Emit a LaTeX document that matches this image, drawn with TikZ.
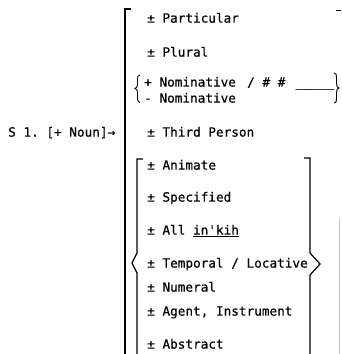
\documentclass[tikz,border=0pt]{standalone}
\usepackage{fontspec}
\setmonofont{DejaVu Sans Mono}[FakeBold=0.5]
\begin{document}
\begin{tikzpicture}[x=1pt,y=-1pt,
  row/.style={anchor=base west, inner sep=0pt, font=\ttfamily\fontsize{12.7}{15}\selectfont},
  brk/.style={line width=1.4pt},
  ibrk/.style={line width=1.2pt},
  curl/.style={line width=0.9pt}]
\useasboundingbox (0,0) rectangle (342,354);
% left-hand side
\node[row] (s1) at (8,136.6) {S 1. [+ Noun]→};
% outer rows
\node[row] (particular) at (147,22.6) {± Particular};
\node[row] (plural) at (147,56.6) {± Plural};
\node[row] (nomplus) at (144,86.6) {+ Nominative};
\node[row] (slash) at (247,86.6) {/ \# \#};
\node[row] (blank) at (295.5,86.6) {\_\_\_\_\_};
\node[row] (nomminus) at (144,102.6) {- Nominative};
\node[row] (third) at (147,136.6) {± Third Person};
% inner rows
\node[row] (animate) at (147,169.6) {± Animate};
\node[row] (specified) at (147,201.6) {± Specified};
\node[row] (all) at (147,234.6) {± All \underline{in'kih}};
\node[row] (temporal) at (147,267.6) {± Temporal / Locative};
\node[row] (numeral) at (147,291.6) {± Numeral};
\node[row] (agent) at (147,315.6) {± Agent, Instrument};
\node[row] (abstract) at (147,348.6) {± Abstract};
% outer bracket
\draw[brk] (131,9) -- (125,9) -- (125,354);
\draw[brk] (336,10.5) -- (341,10.5);
\draw[gray!45, line width=0.8pt] (339.5,218) -- (339.5,354);
% inner bracket-brace
\draw[ibrk] (143,159) -- (137,159) -- (137,253) -- (132,263) -- (137,273) -- (137,354);
\draw[ibrk] (304,158) -- (310,158) -- (310,253) -- (320,264) -- (310,275) -- (310,354);
% nominative braces
\draw[curl] (140,75) .. controls (137.5,75) and (137.5,77) .. (137.5,80) -- (137.5,85)
  .. controls (137.5,87) and (136,88) .. (135,88.5)
  .. controls (136,89) and (137.5,90) .. (137.5,92) -- (137.5,98)
  .. controls (137.5,101) and (138,102) .. (140,102.5);
\draw[curl] (334,73) .. controls (336.5,73) and (336.5,75) .. (336.5,78) -- (336.5,84)
  .. controls (336.5,86.5) and (338,88) .. (339,88)
  .. controls (338,88) and (336.5,89.5) .. (336.5,92) -- (336.5,99)
  .. controls (336.5,102) and (336,103) .. (334,103);
\end{tikzpicture}
\end{document}
